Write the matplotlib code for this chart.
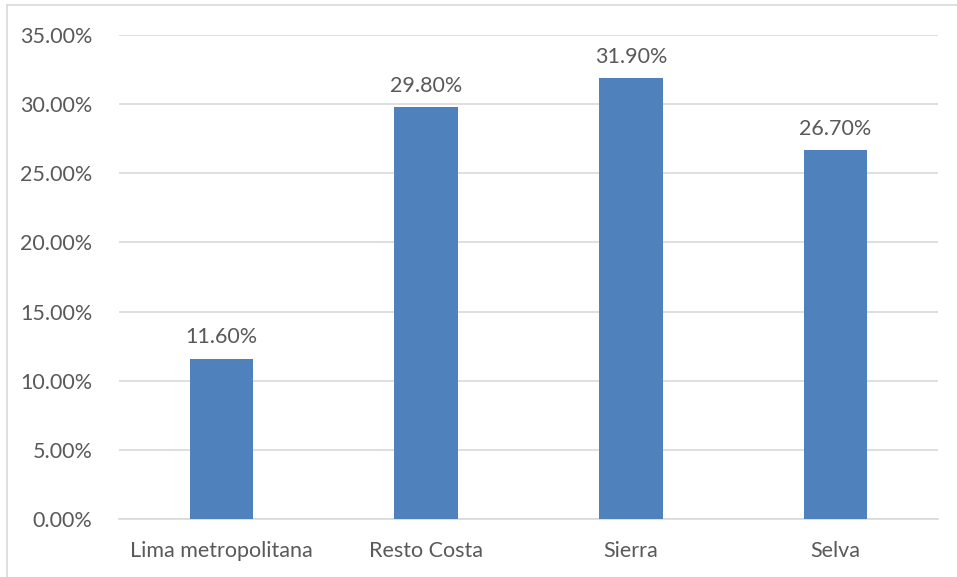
import numpy as np
import matplotlib.pyplot as plt
from matplotlib.lines import Line2D
from matplotlib.ticker import FuncFormatter

plt.rcParams['font.family'] = ['Lato', 'DejaVu Sans']

regions = ['Lima metropolitana', 'Resto Costa', 'Sierra', 'Selva']
pct = [11.60, 29.80, 31.90, 26.70]
yticks = [0, 5, 10, 15, 20, 25, 30, 35]

txt = '#595959'
bar_col = '#4f81bd'
grid_col = '#d9d9d9'

fig = plt.figure(figsize=(9.57, 5.77), dpi=100)
ax = fig.add_axes([119/957, 1 - 519/577, (938 - 119)/957, (519 - 35)/577])

x = np.arange(len(regions))
bars = ax.bar(x, pct, width=0.31, color=bar_col, zorder=3)

for b, v in zip(bars, pct):
    ax.annotate(f'{v:.2f}%', (b.get_x() + b.get_width()/2, v),
                xytext=(0, 8), textcoords='offset points',
                ha='center', va='bottom', fontsize=15.5, color=txt)

ax.set_xlim(-0.5, len(regions) - 0.5)
ax.set_ylim(0, 35)
ax.set_yticks(yticks)
ax.yaxis.set_major_formatter(FuncFormatter(lambda v, p: f'{v:.2f}%'))
ax.set_xticks(x)
ax.set_xticklabels(regions)
ax.grid(axis='y', color=grid_col, linewidth=1.2, zorder=0)
for s in ['top', 'right', 'left']:
    ax.spines[s].set_visible(False)
ax.spines['bottom'].set_color(grid_col)
ax.spines['bottom'].set_linewidth(1.2)
ax.tick_params(length=0, labelsize=15.5, labelcolor=txt)
ax.tick_params(axis='y', pad=19)
ax.tick_params(axis='x', pad=16)

# outer chart frame (only the top and left edges fall inside the image)
fig.add_artist(Line2D([7/957, 1], [1 - 5/577, 1 - 5/577], color=grid_col, lw=1.2))
fig.add_artist(Line2D([7/957, 7/957], [0, 1 - 5/577], color=grid_col, lw=1.2))

fig.savefig('out.png', dpi=100)
